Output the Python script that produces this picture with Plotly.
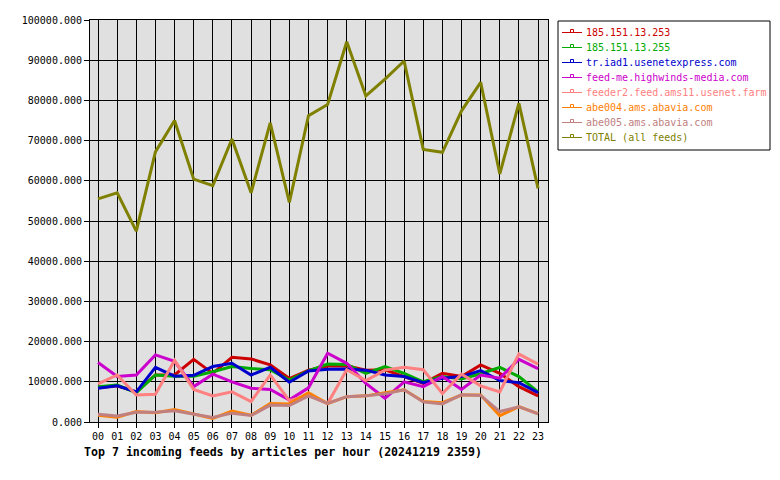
import plotly.graph_objects as go

hours = [f"{h:02d}" for h in range(24)]

s_253 = [8500, 9000, 7500, 11700, 11700, 15600, 12100, 16100, 15700, 14200, 10800, 12900,
         13900, 14000, 12900, 13000, 11300, 9600, 12100, 11300, 14200, 12100, 8800, 6500]
s_255 = [8800, 9200, 7300, 11700, 11400, 11400, 12500, 13800, 13300, 13000, 10400, 12700,
         14400, 14300, 12100, 13800, 12100, 10000, 11300, 10700, 12000, 13600, 11300, 7500]
s_iad1 = [8400, 9000, 7500, 13600, 11400, 11600, 13800, 14600, 11700, 13600, 9900, 12700,
          13100, 13200, 12900, 11700, 11300, 9800, 10900, 11300, 12800, 10300, 9800, 7300]
s_hw = [14800, 11300, 11700, 16700, 15100, 8800, 11900, 10000, 8400, 8100, 5500, 8500,
        17100, 14600, 9600, 5900, 10000, 8800, 11300, 8100, 11700, 10900, 15600, 13300]
s_farm = [9500, 11700, 6700, 6900, 15300, 8100, 6500, 7500, 5100, 11700, 5300, 6700,
          4600, 13000, 10300, 12900, 13600, 13000, 7100, 11900, 9000, 7500, 16900, 14400]
s_abe004 = [1700, 1200, 2600, 2300, 3100, 2000, 900, 2700, 1700, 4600, 4500, 7300,
            4600, 6300, 6500, 7300, 8000, 5100, 4800, 6700, 6700, 1600, 3800, 2100]
s_abe005 = [1900, 1500, 2400, 2400, 2800, 2000, 1100, 2200, 1600, 4200, 4100, 6500,
            4600, 6300, 6500, 7000, 8000, 5000, 4500, 6800, 6600, 2600, 3800, 2000]
s_total = [55500, 57000, 47500, 67200, 75000, 60400, 58800, 70400, 57000, 74400, 54600, 76200,
           79000, 94600, 81100, 85300, 89800, 67800, 67100, 77400, 84500, 61700, 79300, 58100]

names = ["185.151.13.253", "185.151.13.255", "tr.iad1.usenetexpress.com",
         "feed-me.highwinds-media.com", "feeder2.feed.ams11.usenet.farm",
         "abe004.ams.abavia.com", "abe005.ams.abavia.com", "TOTAL (all feeds)"]
series = [s_253, s_255, s_iad1, s_hw, s_farm, s_abe004, s_abe005, s_total]
colors = ["#cc0000", "#00aa00", "#0000cc", "#cc00cc", "#ff8080", "#ff8000", "#c08080", "#808000"]

FONT = "DejaVu Sans Mono"
W, H = 780, 480
L, R, T, B = 90, 232, 20, 58
PW, PH = W - L - R, H - T - B


def px(x):
    return (x - L) / PW


def py(y):
    return (H - B - y) / PH


fig = go.Figure()
for name, ys, c in zip(names, series, colors):
    fig.add_trace(go.Scatter(
        x=list(range(24)), y=ys, mode="lines", name=name,
        line=dict(color=c, width=3), showlegend=False,
    ))

# custom legend box (matches compact reference legend)
shapes = [dict(type="rect", xref="paper", yref="paper",
               x0=px(558), x1=px(770), y0=py(21), y1=py(150),
               line=dict(color="black", width=1), fillcolor="white", layer="above")]
annotations = []
for i, (name, c) in enumerate(zip(names, colors)):
    yy = 32.5 + 15 * i
    shapes.append(dict(type="line", xref="paper", yref="paper",
                       x0=px(562), x1=px(582), y0=py(yy), y1=py(yy),
                       line=dict(color=c, width=1), layer="above"))
    shapes.append(dict(type="rect", xref="paper", yref="paper",
                       x0=px(570.5), x1=px(573.5), y0=py(yy), y1=py(yy - 3),
                       line=dict(color=c, width=1), fillcolor="white", layer="above"))
    annotations.append(dict(text=name, xref="paper", yref="paper",
                            x=px(584), y=py(yy), xanchor="left", yanchor="middle",
                            showarrow=False, font=dict(family=FONT, size=10, color=c)))

annotations.append(dict(
    text="<b>Top 7 incoming feeds by articles per hour (20241219 2359)</b>",
    xref="paper", yref="paper", x=px(82), y=py(452), xanchor="left", yanchor="middle",
    showarrow=False, font=dict(family=FONT, size=11.6, color="black"),
))

fig.update_layout(
    width=W, height=H,
    margin=dict(l=L, r=R, t=T, b=B, autoexpand=False),
    paper_bgcolor="white", plot_bgcolor="#e0e0e0",
    font=dict(family=FONT, size=10, color="black"),
    showlegend=False,
    shapes=shapes, annotations=annotations,
    xaxis=dict(range=[-0.42, 23.52], tickmode="array", tickvals=list(range(24)),
               ticktext=hours, showgrid=True, gridcolor="black", gridwidth=1,
               showline=True, linecolor="black", linewidth=1, mirror=True,
               ticks="outside", ticklen=5, tickcolor="black", zeroline=False,
               tickfont=dict(family=FONT, size=10)),
    yaxis=dict(range=[0, 100000], tickmode="array",
               tickvals=list(range(0, 100001, 10000)),
               tickformat=".3f", showgrid=True, gridcolor="black", gridwidth=1,
               showline=True, linecolor="black", linewidth=1, mirror=True,
               ticks="outside", ticklen=5, tickcolor="black", zeroline=False,
               tickfont=dict(family=FONT, size=10)),
)

fig.write_html("out.html")
